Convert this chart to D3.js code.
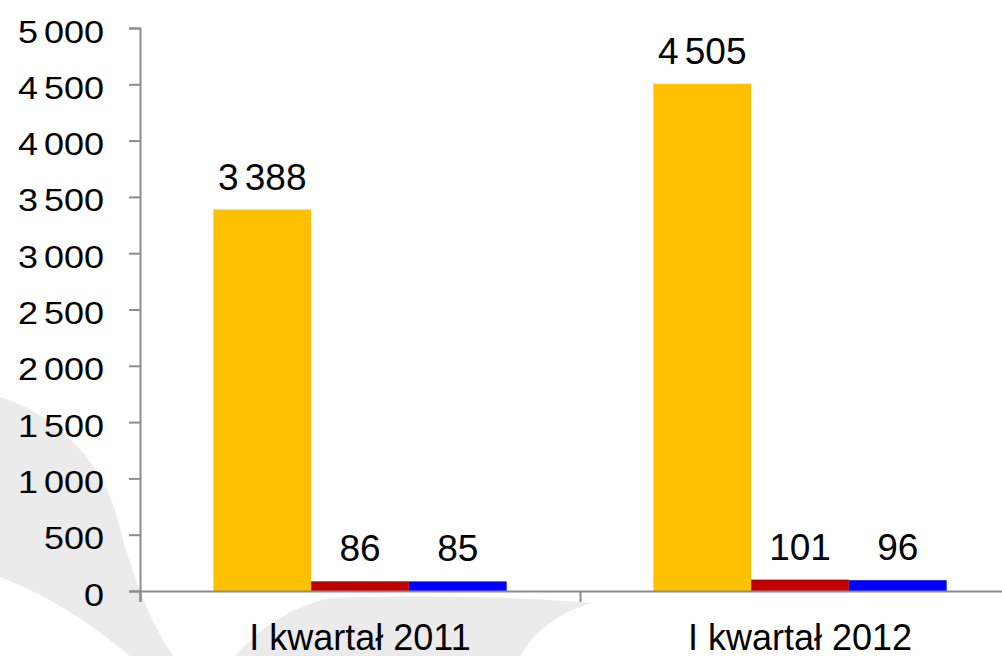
<!DOCTYPE html>
<html>
<head>
<meta charset="utf-8">
<script src="https://cdn.jsdelivr.net/npm/d3@7"></script>
<style>
  html, body { margin: 0; padding: 0; background: #fff; }
  #chart { width: 1002px; height: 656px; overflow: hidden; }
  text { font-family: "Liberation Sans", Arial, sans-serif; fill: #000; }
  .num { word-spacing: -4px; }
</style>
</head>
<body>
<div id="chart"></div>
<script>
const categories = ["I kwartał 2011", "I kwartał 2012"];
const seriesKeys = ["s1", "s2", "s3"];
const seriesOne = [3388, 4505];
const seriesTwo = [86, 101];
const seriesThree = [85, 96];
const yTicks = [0, 500, 1000, 1500, 2000, 2500, 3000, 3500, 4000, 4500, 5000];
const colors = ["#FFC000", "#C00000", "#0000FF"];

const width = 1002;
const height = 656;
const margin = { top: 28, right: -18, bottom: 65, left: 140 };
const innerW = width - margin.left - margin.right;
const innerH = height - margin.top - margin.bottom;

const data = categories.map((c, i) => ({
  category: c,
  values: [seriesOne[i], seriesTwo[i], seriesThree[i]],
}));

const fmt = d3.formatLocale({ decimal: ",", thousands: " ", grouping: [3], currency: ["", " zł"] }).format(",d");

const svg = d3
  .select("#chart")
  .append("svg")
  .attr("width", width)
  .attr("height", height)
  .attr("viewBox", [0, 0, width, height]);

// decorative background swooshes
svg.append("path")
  .attr("d", "M0,397 C45,410 95,450 115,510 C128,560 145,615 173,656 L130,656 C105,635 60,600 0,577 Z")
  .attr("fill", "#ebebeb");
svg.append("path")
  .attr("d", "M235,656 C255,635 280,610 330,598 C420,594 520,597 592,603 C560,612 535,630 520,656 Z")
  .attr("fill", "#ebebeb");

const g = svg.append("g").attr("transform", `translate(${margin.left},${margin.top})`);

// Scales
const x = d3.scaleBand().domain(categories).range([0, innerW]).padding(0);
const xInner = d3.scaleBand().domain(seriesKeys).range([0, x.bandwidth()]).paddingInner(0).paddingOuter(0.75);
const y = d3.scaleLinear().domain([0, 5000]).range([innerH, 0]);
const xEdges = d3.scaleLinear().domain([0, categories.length]).range([0, innerW]);

// Bars
const groups = g.selectAll(".grp")
  .data(data)
  .join("g")
  .attr("class", "grp")
  .attr("transform", (d) => `translate(${x(d.category)},0)`);

groups.selectAll("rect")
  .data((d) => d.values.map((v, i) => ({ key: seriesKeys[i], value: v, color: colors[i] })))
  .join("rect")
  .attr("x", (d) => xInner(d.key))
  .attr("y", (d) => y(d.value))
  .attr("width", xInner.bandwidth())
  .attr("height", (d) => y(0) - y(d.value))
  .attr("fill", (d) => d.color);

groups.selectAll("text.val")
  .data((d) => d.values.map((v, i) => ({ key: seriesKeys[i], value: v })))
  .join("text")
  .attr("class", "val num")
  .attr("x", (d) => xInner(d.key) + xInner.bandwidth() / 2)
  .attr("y", (d) => y(d.value) - 20)
  .attr("text-anchor", "middle")
  .style("font-size", "37px")
  .text((d) => fmt(d.value));

// Y axis
const yAxis = g.append("g")
  .call(d3.axisLeft(y).tickValues(yTicks).tickSize(11).tickPadding(25).tickFormat(fmt));
yAxis.selectAll("path, line").attr("stroke", "#8c8c8c").attr("stroke-width", 2);
yAxis.selectAll("text")
  .attr("class", "num")
  .attr("y", 0)
  .attr("transform", "scale(1,0.88)")
  .attr("dy", "16px")
  .style("font-size", "36px")
  .style("font-family", "Liberation Sans, Arial, sans-serif")
  .attr("fill", "#000");

// X axis: separator ticks
const xAxis = g.append("g")
  .attr("transform", `translate(0,${innerH})`)
  .call(d3.axisBottom(xEdges).tickValues(d3.range(categories.length + 1)).tickSize(11).tickFormat(""));
xAxis.selectAll("path, line").attr("stroke", "#8c8c8c").attr("stroke-width", 2);

// X axis labels
const xLabels = g.append("g")
  .attr("transform", `translate(0,${innerH})`)
  .call(d3.axisBottom(x).tickSize(0).tickPadding(33));
xLabels.select(".domain").remove();
xLabels.selectAll("text")
  .style("font-size", "36px")
  .style("font-family", "Liberation Sans, Arial, sans-serif")
  .attr("fill", "#000");
</script>
</body>
</html>
